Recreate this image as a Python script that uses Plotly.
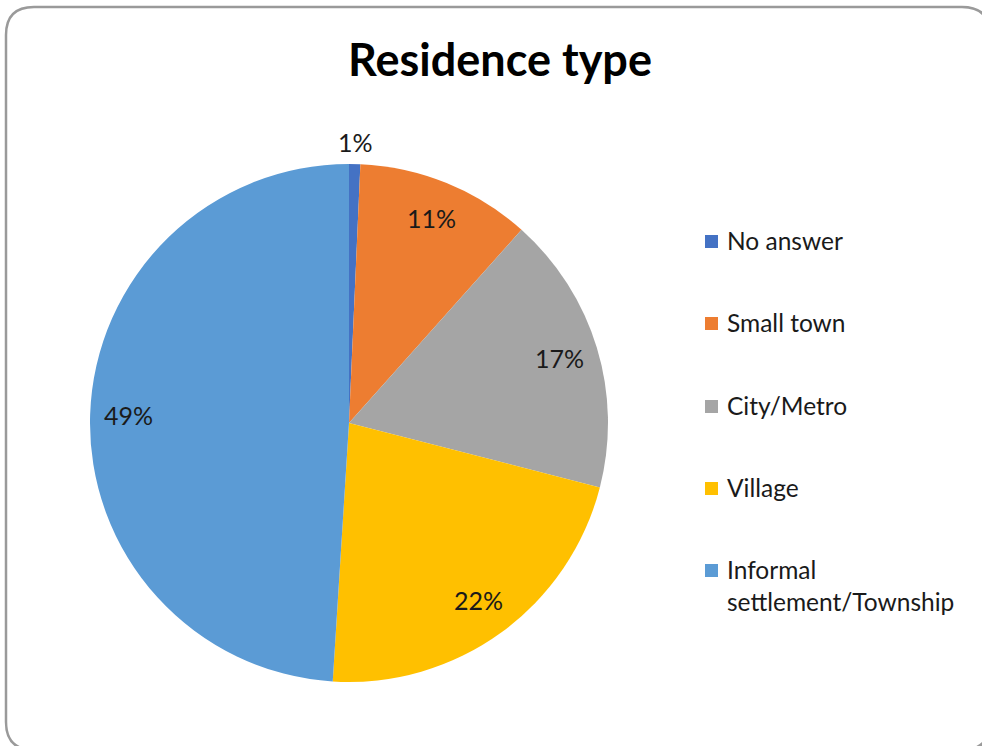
import math
import plotly.graph_objects as go

# Survey answers: residence type (share of respondents, %)
categories = ["No answer", "Small town", "City/Metro", "Village",
              "Informal settlement/Township"]
legend_labels = ["No answer", "Small town", "City/Metro", "Village",
                 "Informal<br>settlement/Township"]
shares = [0.7, 10.9, 17.4, 22.0, 49.0]
colors = ["#4472C4", "#ED7D31", "#A5A5A5", "#FFC000", "#5B9BD5"]

W, H = 982, 746
FONT = "Lato, Carlito, Calibri, sans-serif"
TEXT = "#1a1a1a"

# pie placement in pixels
cx, cy, R = 349, 423, 259


def px(x):
    return x / W


def py(y):
    return 1 - y / H


fig = go.Figure(go.Pie(
    labels=categories,
    values=shares,
    sort=False,
    direction="clockwise",
    rotation=0,
    marker=dict(colors=colors, line=dict(width=0)),
    textinfo="none",
    hoverinfo="label+percent",
    showlegend=False,
    domain=dict(x=[px(cx - R), px(cx + R)], y=[py(cy + R), py(cy - R)]),
))

annotations = []
total = sum(shares)
cum = 0.0
for i, v in enumerate(shares):
    mid = 2 * math.pi * (cum + v / 2) / total
    cum += v
    r = 1.08 * R if v / total < 0.03 else 0.85 * R
    lx = cx + r * math.sin(mid)
    ly = cy - r * math.cos(mid)
    annotations.append(dict(
        x=px(lx), y=py(ly - 1), xref="paper", yref="paper",
        text=f"{round(100 * v / total):.0f}%", showarrow=False,
        font=dict(family=FONT, size=25, color=TEXT),
        xanchor="center", yanchor="middle",
    ))

# legend drawn as swatches + labels
shapes = []
leg_y = [241, 323, 406, 488, 570]
for lab, col, y in zip(legend_labels, colors, leg_y):
    shapes.append(dict(
        type="rect", xref="paper", yref="paper",
        x0=px(705), x1=px(718), y0=py(y + 7), y1=py(y - 6),
        fillcolor=col, line=dict(width=0),
    ))
    annotations.append(dict(
        x=px(725), y=py(y - 17), xref="paper", yref="paper",
        text=lab, showarrow=False, align="left",
        font=dict(family=FONT, size=24.5, color=TEXT),
        xanchor="left", yanchor="top",
    ))

# rounded chart-area border (runs past the right and bottom edges)
x0, y0, x1, y1, rr = 6, 7, 990, 750, 28
rx, ry = rr / W, rr / H
X0, X1, Y0, Y1 = px(x0), px(x1), py(y0), py(y1)
path = (f"M {X0 + rx},{Y0} L {X1 - rx},{Y0} Q {X1},{Y0} {X1},{Y0 - ry} "
        f"L {X1},{Y1 + ry} Q {X1},{Y1} {X1 - rx},{Y1} "
        f"L {X0 + rx},{Y1} Q {X0},{Y1} {X0},{Y1 + ry} "
        f"L {X0},{Y0 - ry} Q {X0},{Y0} {X0 + rx},{Y0} Z")
shapes.append(dict(type="path", xref="paper", yref="paper", path=path,
                   line=dict(color="#9a9a9a", width=2.5), layer="below"))

fig.update_layout(
    width=W, height=H,
    margin=dict(l=0, r=0, t=0, b=0),
    paper_bgcolor="white",
    plot_bgcolor="white",
    title=dict(text="<b>Residence type</b>", x=px(500), y=py(60),
               xanchor="center", yanchor="middle",
               font=dict(family=FONT, size=45, color="#000000")),
    annotations=annotations,
    shapes=shapes,
)

fig.write_html("out.html")
